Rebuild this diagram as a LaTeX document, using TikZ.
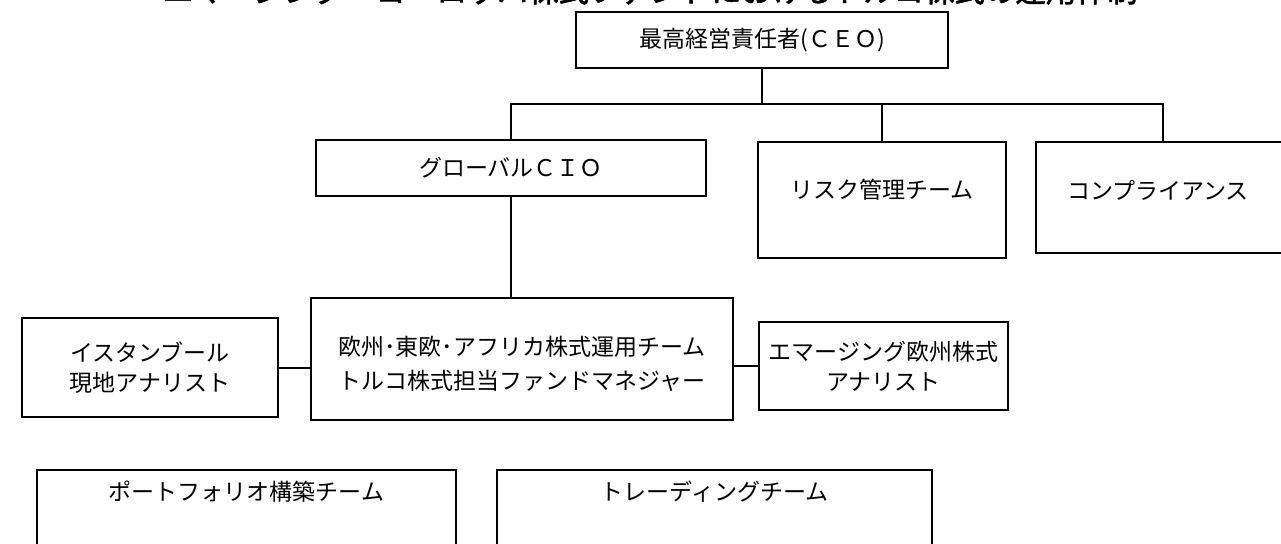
\documentclass[tikz,border=0pt]{standalone}
\usepackage{fontspec}
\newfontfamily\jp{Noto Sans CJK JP}
\newfontfamily\jpbold[FakeBold=2]{Noto Sans CJK JP}
\tikzset{
  orgbox/.style={draw=black, line width=2pt, fill=white, rectangle, inner sep=0pt},
  txt/.style={font=\jp\fontsize{23}{32}\selectfont, align=center, inner sep=0pt},
  conn/.style={draw=black, line width=2pt},
}
\begin{document}
\begin{tikzpicture}[x=1pt,y=-1pt]
\useasboundingbox (0,0) rectangle (1281,543);
\fill[white] (0,0) rectangle (1281,543);
\clip (0,0) rectangle (1281,543);
% title (cut off at the top in the reference)
\node[font=\jpbold\fontsize{30.5}{30}\selectfont, anchor=base, inner sep=0pt] (title) at (650,2) {エマージング・ヨーロッパ株式ファンドにおけるトルコ株式の運用体制};
% boxes
\node[orgbox, txt, minimum width=372pt, minimum height=56pt] (ceo) at (762,40) {最高経営責任者(ＣＥＯ)};
\node[orgbox, txt, minimum width=390pt, minimum height=56pt] (gcio) at (511,168) {グローバルＣＩＯ};
\node[orgbox, minimum width=248pt, minimum height=116pt] (risk) at (882,200) {};
\node[txt] (riskt) at (882,190) {リスク管理チーム};
\node[orgbox, minimum width=254pt, minimum height=111pt] (comp) at (1163,197.5) {};
\node[txt] (compt) at (1158,190) {コンプライアンス};
\node[orgbox, minimum width=422pt, minimum height=122pt] (main) at (522,359) {};
\node[txt, font=\jp\fontsize{23}{34}\selectfont] (maint) at (522,364) {欧州･東欧･アフリカ株式運用チーム\\トルコ株式担当ファンドマネジャー};
\node[orgbox, txt, font=\jp\fontsize{23}{30}\selectfont, minimum width=256pt, minimum height=99pt] (ist) at (150,367.5) {イスタンブール\\現地アナリスト};
\node[orgbox, txt, font=\jp\fontsize{23}{30}\selectfont, minimum width=249pt, minimum height=88pt] (emg) at (883.5,366) {エマージング欧州株式\\アナリスト};
\node[orgbox, minimum width=419pt, minimum height=100pt] (pf) at (246.5,520) {};
\node[txt] (pft) at (246.5,492) {ポートフォリオ構築チーム};
\node[orgbox, minimum width=435pt, minimum height=100pt] (tr) at (714.5,520) {};
\node[txt] (trt) at (714.5,492) {トレーディングチーム};
% connectors
\coordinate (bus) at (0,104);
\draw[conn] (ceo.south) -- (ceo.south |- bus);
\draw[conn] (gcio.north) -- (gcio.north |- bus) -- (comp.north |- bus) -- (comp.north);
\draw[conn] (risk.north) -- (risk.north |- bus);
\draw[conn] (gcio.south) -- (gcio.south |- main.north);
\draw[conn] (ist.east) -- (ist.east -| main.west);
\draw[conn] (emg.west) -- (emg.west -| main.east);
\end{tikzpicture}
\end{document}
